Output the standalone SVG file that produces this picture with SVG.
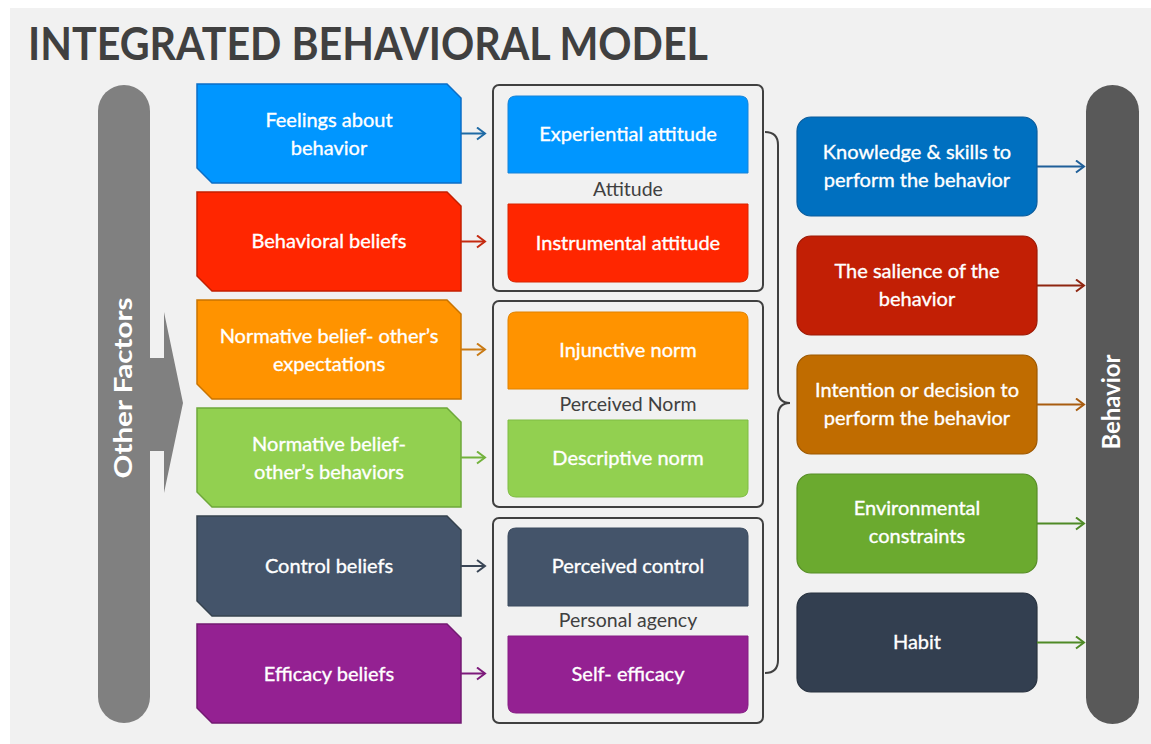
<svg xmlns="http://www.w3.org/2000/svg" width="1151" height="744" viewBox="0 0 1151 744">
  <defs>
    <style>
      .title { font-family: Lato, "Liberation Sans", sans-serif; font-weight: 700; font-size: 46px; fill: #404040; }
      .lbl { font-family: Lato, "Liberation Sans", sans-serif; font-size: 20px; fill: #ffffff; stroke: #ffffff; stroke-width: 0.35px; text-anchor: middle; }
      .side { font-family: Lato, "Liberation Sans", sans-serif; font-weight: 700; font-size: 24px; fill: #ffffff; text-anchor: middle; }
      .grp { font-family: Lato, "Liberation Sans", sans-serif; font-size: 19.5px; fill: #404040; text-anchor: middle; }
      .frame { fill: none; stroke: #404040; stroke-width: 2; }
      .conn { fill: none; stroke-width: 2; }
      .brace { fill: none; stroke: #404040; stroke-width: 2; }
    </style>
    <marker id="hBlue" markerUnits="userSpaceOnUse" markerWidth="12" markerHeight="14" viewBox="0 0 12 14" refX="10" refY="7" orient="auto">
      <path d="M2,1 L10,7 L2,13" fill="none" stroke="#1f6aa5" stroke-width="2"/>
    </marker>
    <marker id="hRed" markerUnits="userSpaceOnUse" markerWidth="12" markerHeight="14" viewBox="0 0 12 14" refX="10" refY="7" orient="auto">
      <path d="M2,1 L10,7 L2,13" fill="none" stroke="#c42a10" stroke-width="2"/>
    </marker>
    <marker id="hOrange" markerUnits="userSpaceOnUse" markerWidth="12" markerHeight="14" viewBox="0 0 12 14" refX="10" refY="7" orient="auto">
      <path d="M2,1 L10,7 L2,13" fill="none" stroke="#c97a14" stroke-width="2"/>
    </marker>
    <marker id="hLime" markerUnits="userSpaceOnUse" markerWidth="12" markerHeight="14" viewBox="0 0 12 14" refX="10" refY="7" orient="auto">
      <path d="M2,1 L10,7 L2,13" fill="none" stroke="#72b23c" stroke-width="2"/>
    </marker>
    <marker id="hSlate" markerUnits="userSpaceOnUse" markerWidth="12" markerHeight="14" viewBox="0 0 12 14" refX="10" refY="7" orient="auto">
      <path d="M2,1 L10,7 L2,13" fill="none" stroke="#3a4656" stroke-width="2"/>
    </marker>
    <marker id="hPurple" markerUnits="userSpaceOnUse" markerWidth="12" markerHeight="14" viewBox="0 0 12 14" refX="10" refY="7" orient="auto">
      <path d="M2,1 L10,7 L2,13" fill="none" stroke="#7d1a7b" stroke-width="2"/>
    </marker>
    <marker id="hNavy" markerUnits="userSpaceOnUse" markerWidth="12" markerHeight="14" viewBox="0 0 12 14" refX="10" refY="7" orient="auto">
      <path d="M2,1 L10,7 L2,13" fill="none" stroke="#1f5f99" stroke-width="2"/>
    </marker>
    <marker id="hMaroon" markerUnits="userSpaceOnUse" markerWidth="12" markerHeight="14" viewBox="0 0 12 14" refX="10" refY="7" orient="auto">
      <path d="M2,1 L10,7 L2,13" fill="none" stroke="#8e2510" stroke-width="2"/>
    </marker>
    <marker id="hBrown" markerUnits="userSpaceOnUse" markerWidth="12" markerHeight="14" viewBox="0 0 12 14" refX="10" refY="7" orient="auto">
      <path d="M2,1 L10,7 L2,13" fill="none" stroke="#a85c10" stroke-width="2"/>
    </marker>
    <marker id="hGreen" markerUnits="userSpaceOnUse" markerWidth="12" markerHeight="14" viewBox="0 0 12 14" refX="10" refY="7" orient="auto">
      <path d="M2,1 L10,7 L2,13" fill="none" stroke="#4f8a26" stroke-width="2"/>
    </marker>
  </defs>

  <!-- canvas -->
  <rect x="0" y="0" width="1151" height="744" fill="#ffffff"/>
  <rect x="10" y="8" width="1141" height="736" fill="#f1f1f1"/>

  <text class="title" x="28" y="60" textLength="680" lengthAdjust="spacingAndGlyphs">INTEGRATED BEHAVIORAL MODEL</text>

  <!-- left column: other factors pill with arrow -->
  <g id="other-factors">
    <rect x="98" y="85" width="52" height="638" rx="26" fill="#808080"/>
    <polygon points="149,358 164,358 164,312 183,403 164,493 164,451 149,451" fill="#808080"/>
    <text class="side" transform="translate(124,388) rotate(-90)" y="8" textLength="181" lengthAdjust="spacingAndGlyphs">Other Factors</text>
  </g>

  <!-- belief boxes -->
  <g id="feelings">
    <polygon points="197,84 447,84 461,98 461,183 212,183 197,168" fill="#0096ff" stroke="#0b6ec6" stroke-width="1.5"/>
    <text class="lbl" x="329" y="127">Feelings about</text>
    <text class="lbl" x="329" y="155">behavior</text>
  </g>
  <g id="behavioral-beliefs">
    <polygon points="197,192 447,192 461,206 461,291 212,291 197,276" fill="#ff2600" stroke="#c41f00" stroke-width="1.5"/>
    <text class="lbl" x="329" y="248">Behavioral beliefs</text>
  </g>
  <g id="normative-expectations">
    <polygon points="197,300 447,300 461,314 461,399 212,399 197,384" fill="#ff9300" stroke="#c97400" stroke-width="1.5"/>
    <text class="lbl" x="329" y="343">Normative belief- other’s</text>
    <text class="lbl" x="329" y="371">expectations</text>
  </g>
  <g id="normative-behaviors">
    <polygon points="197,408 447,408 461,422 461,507 212,507 197,492" fill="#92d050" stroke="#6ea83a" stroke-width="1.5"/>
    <text class="lbl" x="329" y="451">Normative belief-</text>
    <text class="lbl" x="329" y="479">other’s behaviors</text>
  </g>
  <g id="control-beliefs">
    <polygon points="197,516 447,516 461,530 461,616 212,616 197,601" fill="#44546a" stroke="#36434f" stroke-width="1.5"/>
    <text class="lbl" x="329" y="573">Control beliefs</text>
  </g>
  <g id="efficacy-beliefs">
    <polygon points="197,624 447,624 461,638 461,723 212,723 197,708" fill="#942192" stroke="#731a72" stroke-width="1.5"/>
    <text class="lbl" x="329" y="681">Efficacy beliefs</text>
  </g>

  <!-- construct groups -->
  <g id="attitude">
    <rect class="frame" x="493" y="85" width="270" height="206" rx="6"/>
    <path d="M508,173 V104 Q508,96 516,96 H740 Q748,96 748,104 V173 Z" fill="#0096ff" stroke="#1683d8" stroke-width="1"/>
    <text class="lbl" x="628" y="141">Experiential attitude</text>
    <text class="grp" x="628" y="196">Attitude</text>
    <path d="M508,204 H748 V274 Q748,282 740,282 H516 Q508,282 508,274 Z" fill="#ff2600" stroke="#d82400" stroke-width="1"/>
    <text class="lbl" x="628" y="250">Instrumental attitude</text>
  </g>
  <g id="perceived-norm">
    <rect class="frame" x="493" y="301" width="270" height="206" rx="6"/>
    <path d="M508,389 V320 Q508,312 516,312 H740 Q748,312 748,320 V389 Z" fill="#ff9300" stroke="#e08200" stroke-width="1"/>
    <text class="lbl" x="628" y="357">Injunctive norm</text>
    <text class="grp" x="628" y="411">Perceived Norm</text>
    <path d="M508,420 H748 V489 Q748,497 740,497 H516 Q508,497 508,489 Z" fill="#92d050" stroke="#7fbc42" stroke-width="1"/>
    <text class="lbl" x="628" y="465">Descriptive norm</text>
  </g>
  <g id="personal-agency">
    <rect class="frame" x="493" y="518" width="270" height="205" rx="6"/>
    <path d="M508,606 V536 Q508,528 516,528 H740 Q748,528 748,536 V606 Z" fill="#44546a" stroke="#3b4a5e" stroke-width="1"/>
    <text class="lbl" x="628" y="573">Perceived control</text>
    <text class="grp" x="628" y="627">Personal agency</text>
    <path d="M508,636 H748 V705 Q748,713 740,713 H516 Q508,713 508,705 Z" fill="#942192" stroke="#851d83" stroke-width="1"/>
    <text class="lbl" x="628" y="681">Self- efficacy</text>
  </g>

  <!-- determinants of behavior -->
  <g id="knowledge">
    <rect x="797" y="117" width="240" height="99" rx="14" fill="#0070c0" stroke="#0b5c9c" stroke-width="1.2"/>
    <text class="lbl" x="917" y="159">Knowledge &amp; skills to</text>
    <text class="lbl" x="917" y="187">perform the behavior</text>
  </g>
  <g id="salience">
    <rect x="797" y="236" width="240" height="99" rx="14" fill="#c21f05" stroke="#9c1a06" stroke-width="1.2"/>
    <text class="lbl" x="917" y="278">The salience of the</text>
    <text class="lbl" x="917" y="306">behavior</text>
  </g>
  <g id="intention">
    <rect x="797" y="355" width="240" height="99" rx="14" fill="#c06c00" stroke="#9c5800" stroke-width="1.2"/>
    <text class="lbl" x="917" y="397">Intention or decision to</text>
    <text class="lbl" x="917" y="425">perform the behavior</text>
  </g>
  <g id="environment">
    <rect x="797" y="474" width="240" height="99" rx="14" fill="#6baa2f" stroke="#578d26" stroke-width="1.2"/>
    <text class="lbl" x="917" y="515">Environmental</text>
    <text class="lbl" x="917" y="543">constraints</text>
  </g>
  <g id="habit">
    <rect x="797" y="593" width="240" height="99" rx="14" fill="#333f50" stroke="#28323f" stroke-width="1.2"/>
    <text class="lbl" x="917" y="649">Habit</text>
  </g>

  <!-- behavior pill -->
  <g id="behavior">
    <rect x="1086" y="85" width="53" height="639" rx="26.5" fill="#595959"/>
    <text class="side" transform="translate(1112,402) rotate(-90)" y="8" textLength="95" lengthAdjust="spacingAndGlyphs">Behavior</text>
  </g>

  <!-- connectors -->
  <g id="connectors">
    <path class="conn" d="M461,133.5 H485" stroke="#1f6aa5" marker-end="url(#hBlue)"/>
    <path class="conn" d="M461,241.5 H485" stroke="#c42a10" marker-end="url(#hRed)"/>
    <path class="conn" d="M461,349.5 H485" stroke="#c97a14" marker-end="url(#hOrange)"/>
    <path class="conn" d="M461,457.5 H485" stroke="#72b23c" marker-end="url(#hLime)"/>
    <path class="conn" d="M461,566 H485" stroke="#3a4656" marker-end="url(#hSlate)"/>
    <path class="conn" d="M461,673.5 H485" stroke="#7d1a7b" marker-end="url(#hPurple)"/>

    <path class="brace" d="M765,132 Q778,132 778,145 V390 Q778,403 790,403 Q778,403 778,416 V660 Q778,673 765,673"/>

    <path class="conn" d="M1037,166.5 H1084" stroke="#1f5f99" marker-end="url(#hNavy)"/>
    <path class="conn" d="M1037,285.5 H1084" stroke="#8e2510" marker-end="url(#hMaroon)"/>
    <path class="conn" d="M1037,404.5 H1084" stroke="#a85c10" marker-end="url(#hBrown)"/>
    <path class="conn" d="M1037,523.5 H1084" stroke="#4f8a26" marker-end="url(#hGreen)"/>
    <path class="conn" d="M1037,642.5 H1084" stroke="#4f8a26" marker-end="url(#hGreen)"/>
  </g>
</svg>
